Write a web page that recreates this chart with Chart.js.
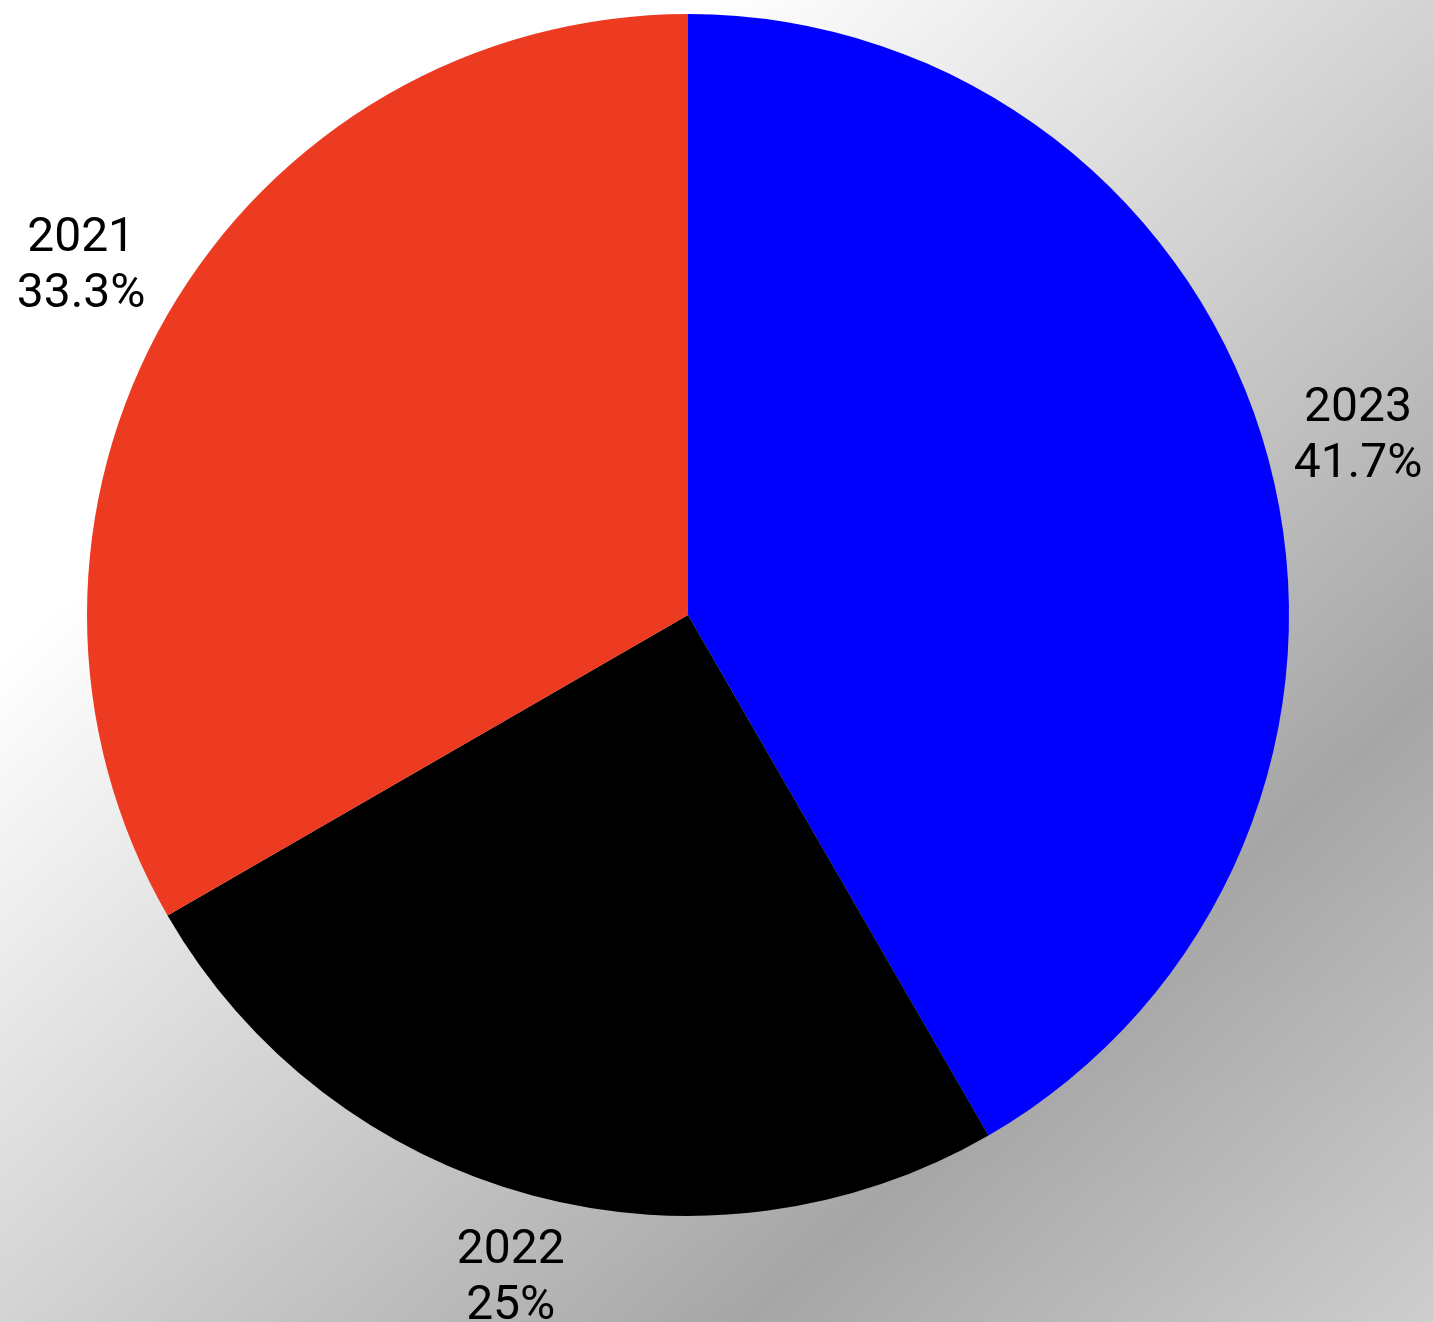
<!DOCTYPE html>
<html>
<head>
<meta charset="utf-8">
<script src="https://cdn.jsdelivr.net/npm/chart.js@4.4.1/dist/chart.umd.min.js"></script>
<style>
  html, body { margin: 0; padding: 0; }
  body {
    width: 1433px; height: 1322px; overflow: hidden;
    background: linear-gradient(to bottom right, #ffffff 25%, #a6a6a6 76%, #cecece 100%);
  }
  canvas { display: block; }
</style>
</head>
<body>
<canvas id="pieChart" width="1433" height="1322"></canvas>
<script>
// データ（時計回り、上から）
const years = ['2023', '2022', '2021'];
const counts = [5, 3, 4];
const sliceColors = ['#0000ff', '#000000', '#ed3b22'];

// 円の外側に「年 + 割合」を描くプラグイン
const outerLabels = {
  id: 'outerLabels',
  afterDatasetsDraw(chart) {
    const ctx = chart.ctx;
    const meta = chart.getDatasetMeta(0);
    const data = chart.data.datasets[0].data;
    const total = data.reduce((a, b) => a + b, 0);
    const fontSize = 48;
    const lineH = 56;
    const offset = 16;
    ctx.save();
    ctx.font = fontSize + 'px Roboto';
    ctx.fillStyle = '#000';
    ctx.textAlign = 'center';
    ctx.textBaseline = 'middle';
    meta.data.forEach((arc, i) => {
      const p = arc.getProps(['x', 'y', 'startAngle', 'endAngle', 'outerRadius'], true);
      const mid = (p.startAngle + p.endAngle) / 2;
      const ux = Math.cos(mid), uy = Math.sin(mid);
      const pct = Math.round(data[i] / total * 1000) / 10;
      const lines = [chart.data.labels[i], pct + '%'];
      const w = Math.max(...lines.map(t => ctx.measureText(t).width));
      const h = lines.length * lineH;
      const dist = p.outerRadius + offset + Math.abs(ux) * w / 2 + Math.abs(uy) * h / 2;
      const cx = p.x + ux * dist;
      const cy = p.y + uy * dist + 2;
      lines.forEach((t, k) => {
        ctx.fillText(t, cx, cy + (k - (lines.length - 1) / 2) * lineH);
      });
    });
    ctx.restore();
  }
};

const ctx = document.getElementById('pieChart').getContext('2d');
new Chart(ctx, {
  type: 'pie',
  data: {
    labels: years,
    datasets: [{
      data: counts,
      backgroundColor: sliceColors,
      borderWidth: 0
    }]
  },
  options: {
    responsive: false,
    animation: false,
    layout: { padding: { left: 87, right: 144, top: 14, bottom: 106 } },
    plugins: {
      legend: { display: false },
      tooltip: { enabled: false }
    }
  },
  plugins: [outerLabels]
});
</script>
</body>
</html>
